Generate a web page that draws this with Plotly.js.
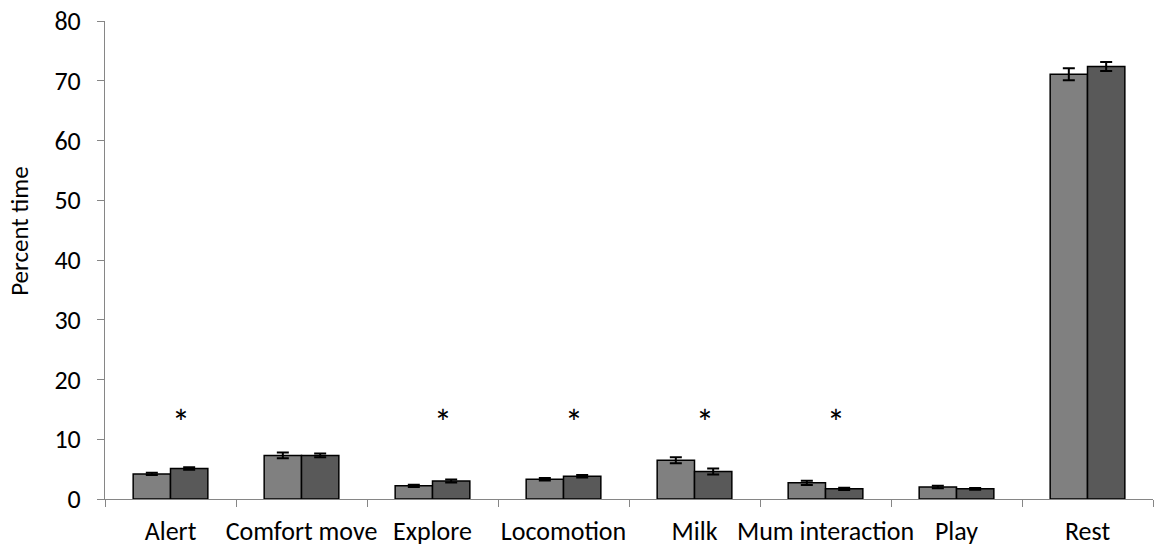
<!DOCTYPE html>
<html>
<head>
<meta charset="utf-8">
<script src="https://cdn.plot.ly/plotly-3.0.1.min.js"></script>
<style>
  html, body { margin: 0; padding: 0; background: #fff; }
  #chart { width: 1160px; height: 547px; }
</style>
</head>
<body>
<div id="chart"></div>
<script>
// Behaviour categories
const categories = ["Alert", "Comfort move", "Explore", "Locomotion", "Milk", "Mum interaction", "Play", "Rest"];

// Percent time per behaviour, two groups, with standard errors
const groupA = [4.2, 7.3, 2.2, 3.3, 6.5, 2.7, 2.0, 71.1];
const groupAErr = [0.2, 0.5, 0.2, 0.2, 0.5, 0.35, 0.2, 1.0];
const groupB = [5.1, 7.3, 3.0, 3.8, 4.6, 1.7, 1.7, 72.4];
const groupBErr = [0.2, 0.3, 0.25, 0.2, 0.5, 0.2, 0.15, 0.75];

// Behaviours with a significant difference between groups
const significant = ["Alert", "Explore", "Locomotion", "Milk", "Mum interaction"];
const markerLevel = 14;

const yTitle = "Percent time";

const font = "Calibri, Carlito, Lato, 'Open Sans', sans-serif";

const errStyle = (arr) => ({
  type: "data", array: arr, visible: true,
  color: "#000", thickness: 2, width: 6
});

const traces = [
  {
    type: "bar", x: categories, y: groupA,
    marker: { color: "#808080", line: { color: "#000", width: 1.5 } },
    error_y: errStyle(groupAErr), hoverinfo: "x+y"
  },
  {
    type: "bar", x: categories, y: groupB,
    marker: { color: "#595959", line: { color: "#000", width: 1.5 } },
    error_y: errStyle(groupBErr), hoverinfo: "x+y"
  }
];

// Significance stars above the marked behaviours
const annotations = significant.map(c => ({
  x: c, y: markerLevel, xref: "x", yref: "y",
  text: "*", showarrow: false, xshift: 10, yshift: -8,
  font: { family: font, size: 36, color: "#000" }
}));

// Vertical axis title, set slightly above the middle of the axis
annotations.push({
  text: yTitle, textangle: -90, showarrow: false,
  xref: "paper", yref: "paper", x: 0, y: 0.559,
  xanchor: "center", yanchor: "middle", xshift: -85,
  font: { family: font, size: 25, color: "#000" }
});

const layout = {
  width: 1160, height: 547,
  margin: { l: 105, r: 7, t: 21, b: 48 },
  paper_bgcolor: "#fff", plot_bgcolor: "#fff",
  showlegend: false,
  barmode: "group",
  bargap: 0.43, bargroupgap: 0,
  font: { family: font, size: 26, color: "#000" },
  xaxis: {
    type: "category",
    showline: true, linecolor: "#868686", linewidth: 1,
    ticks: "outside", tickson: "boundaries", ticklen: 7, tickcolor: "#868686",
    tickfont: { family: font, size: 26, color: "#000" },
    tickangle: 0,
    ticklabelstandoff: 9,
    showgrid: false, zeroline: false
  },
  yaxis: {
    range: [0, 80], dtick: 10,
    showline: true, linecolor: "#868686", linewidth: 1,
    ticks: "outside", ticklen: 7, tickcolor: "#868686",
    tickfont: { family: font, size: 26, color: "#000" },
    ticklabelstandoff: 11,
    showgrid: false, zeroline: false
  },
  annotations: annotations
};

Plotly.newPlot("chart", traces, layout, { displayModeBar: false, staticPlot: true });
</script>
</body>
</html>
